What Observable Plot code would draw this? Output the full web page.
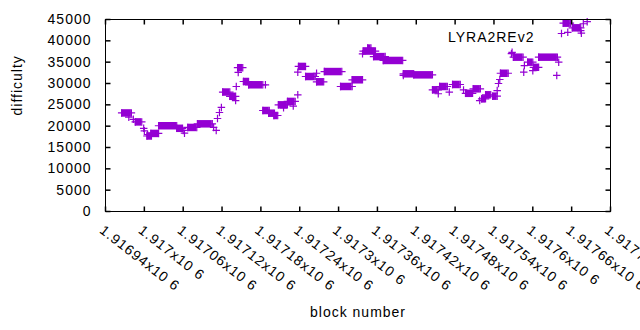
<!DOCTYPE html>
<html><head><meta charset="utf-8">
<script src="https://cdn.jsdelivr.net/npm/d3@7"></script>
<script src="https://cdn.jsdelivr.net/npm/@observablehq/plot@0.6"></script>
<style>
html,body{margin:0;padding:0;background:#fff;overflow:hidden;}
#chart svg{overflow:hidden;display:block;}
</style></head><body><div id="chart"></div>
<script>
// runs of consecutive blocks sharing the same difficulty
const runStart = [1916965,1916986,1917004,1917010,1917022,1917050,1917067,1917082,1917121,1917132,1917144,1917153,1917161,1917183,1917192,1917200,1917207,1917221,1917238,1917249,1917266,1917278,1917303,1917321,1917338,1917345,1917354,1917369,1917400,1917416,1917445,1917456,1917476,1917496,1917508,1917521,1917527,1917538,1917550,1917570,1917592,1917601,1917609,1917647,1917661];
const runEnd   = [1916980,1916996,1917011,1917022,1917050,1917059,1917081,1917105,1917132,1917141,1917152,1917161,1917183,1917193,1917201,1917206,1917221,1917233,1917249,1917264,1917277,1917305,1917321,1917337,1917357,1917350,1917372,1917399,1917416,1917445,1917454,1917468,1917488,1917507,1917519,1917527,1917535,1917545,1917562,1917585,1917600,1917609,1917638,1917658,1917674];
const runDiff  = [23100,21000,17700,18300,20100,19500,19700,20550,28000,27000,33700,30470,29700,23670,23040,22500,25000,25800,34000,31640,30400,32800,29300,30870,37600,38300,36300,35400,32270,32030,28520,29300,29770,27700,28750,26400,27350,27030,32400,36170,35000,33800,36170,44140,43050];
// isolated blocks
const pointBlock = [1916976,1916983,1916999,1917000,1917005,1917060,1917062,1917107,1917111,1917113,1917116,1917119,1917141,1917142,1917145,1917187,1917215,1917230,1917237,1917237,1917266,1917337,1917400,1917454,1917471,1917493,1917518,1917545,1917547,1917549,1917567,1917568,1917586,1917587,1917600,1917637,1917640,1917654,1917674,1917675,1917678,1917684];
const pointDiff  = [22100,21600,19500,18900,18000,19000,18350,19700,19000,21800,23200,24400,26000,29300,32600,29700,24300,24700,27350,32650,32400,36960,31900,27600,28000,28500,26000,28350,30000,30940,37000,37300,32650,34200,33000,31900,35000,42000,42400,41800,44000,44500];

const xTicks = [1916940,1917000,1917060,1917120,1917180,1917240,1917300,1917360,1917420,1917480,1917540,1917600,1917660,1917720];
const xTickLabels = ["1.91694x10 6","1.917x10 6","1.91706x10 6","1.91712x10 6","1.91718x10 6","1.91724x10 6","1.9173x10 6","1.91736x10 6","1.91742x10 6","1.91748x10 6","1.91754x10 6","1.9176x10 6","1.91766x10 6","1.9177x10 6"];
const yTicks = [0,5000,10000,15000,20000,25000,30000,35000,40000,45000];
const seriesName = "LYRA2REv2";
const xLabel = "block number";
const yLabel = "difficulty";

const runs = runStart.map((s, i) => ({start: s, end: runEnd[i], diff: runDiff[i]}));
const runEnds = runs.flatMap(r => [{block: r.start, diff: r.diff}, {block: r.end, diff: r.diff}]);
const points = pointBlock.map((b, i) => ({block: b, diff: pointDiff[i]}));

const purple = "#9400d3";
const T = 5;
const A = 3.75;
const tickSym = (dx, dy) => ({draw(ctx) { ctx.moveTo(0, 0); ctx.lineTo(dx, dy); }});
const plusSym = {draw(ctx) { ctx.moveTo(-A, 0); ctx.lineTo(A, 0); ctx.moveTo(0, -A); ctx.lineTo(0, A); }};

const chart = Plot.plot({
  width: 640, height: 330,
  marginLeft: 105, marginRight: 30, marginTop: 19, marginBottom: 119,
  style: {fontFamily: "'Liberation Sans', Arial, sans-serif", fontSize: "14px", letterSpacing: "1px", background: "white", color: "black"},
  x: {domain: [1916940, 1917720], label: null, axis: null},
  y: {domain: [0, 45000], label: null, axis: null},
  marks: [
    Plot.ruleY(runs, {x1: "start", x2: "end", y: "diff", stroke: purple, strokeWidth: 7.5}),
    Plot.dot(runEnds, {x: "block", y: "diff", symbol: plusSym, stroke: purple, strokeWidth: 1.2, fill: "none"}),
    Plot.dot(points, {x: "block", y: "diff", symbol: plusSym, stroke: purple, strokeWidth: 1.2, fill: "none"}),
    Plot.frame({stroke: "black"}),
    Plot.dot(yTicks, {y: d => d, frameAnchor: "left", symbol: tickSym(T, 0), stroke: "black", fill: "none"}),
    Plot.dot(yTicks, {y: d => d, frameAnchor: "right", symbol: tickSym(-T, 0), stroke: "black", fill: "none"}),
    Plot.dot(xTicks, {x: d => d, frameAnchor: "bottom", symbol: tickSym(0, -T), stroke: "black", fill: "none"}),
    Plot.dot(xTicks, {x: d => d, frameAnchor: "top", symbol: tickSym(0, T), stroke: "black", fill: "none"}),
    Plot.text(yTicks, {y: d => d, text: d3.format("d"), frameAnchor: "left", textAnchor: "end", dx: -14}),
    Plot.text(xTicks, {x: d => d, text: (d, i) => xTickLabels[i], frameAnchor: "bottom", rotate: 38, textAnchor: "start", lineAnchor: "middle", dx: -4, dy: 17, ariaLabel: "xtick-labels"}),
    Plot.text([xLabel], {frameAnchor: "bottom", dy: 105}),
    Plot.text([yLabel], {frameAnchor: "left", rotate: -90, dx: -88}),
    Plot.text([seriesName], {frameAnchor: "top-right", textAnchor: "end", dx: -76, dy: 13}),
    Plot.dot([seriesName], {frameAnchor: "top-right", dx: -49, dy: 14, symbol: plusSym, stroke: purple, strokeWidth: 1.2, fill: "none"})
  ]
});
const xl = chart.querySelector('g[aria-label="xtick-labels"]');
if (xl) xl.style.letterSpacing = "0.3px";
document.getElementById("chart").appendChild(chart);
</script></body></html>
